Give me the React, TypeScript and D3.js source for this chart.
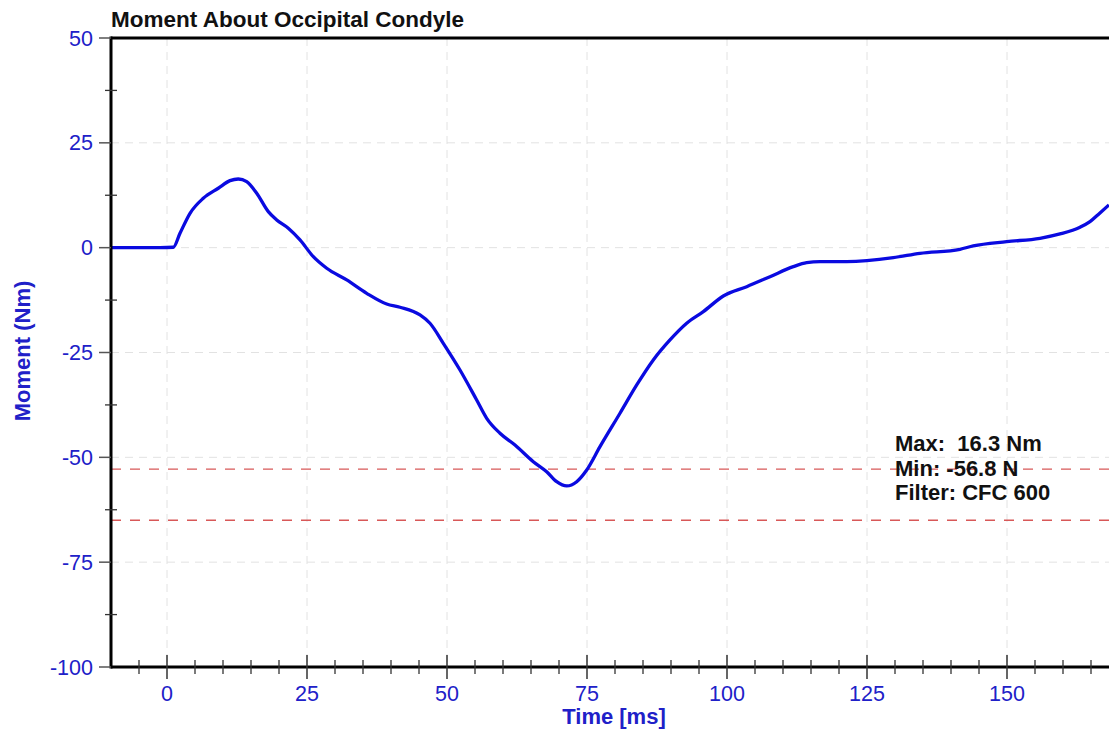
import React from "react";
import * as d3 from "d3";

const timeMs = [-10, -1.25, 1.13, 2.32, 4.11, 6.48, 9.16, 11.25, 12.73, 14.23, 16.02, 18.09, 19.59, 21.66, 23.75, 26.13, 28.52, 32.09, 35.66, 39.23, 41.61, 45.18, 46.96, 49.34, 52.32, 55.3, 57.09, 59.46, 62.14, 65.41, 67.8, 69.59, 71.38, 73.16, 74.95, 77.32, 80.89, 83.88, 86.84, 89.82, 92.8, 95.77, 99.34, 103.52, 107.68, 111.84, 114.23, 116.61, 121.38, 129.7, 134.46, 141.6, 143.98, 149.95, 155.89, 159.46, 163.04, 164.82, 166.6, 168.2];
const momentNm = [0, 0, 0.1, 3.43, 8.2, 11.78, 14.17, 15.98, 16.38, 15.74, 12.97, 8.59, 6.61, 4.63, 1.84, -2.15, -4.91, -7.7, -10.88, -13.43, -14.21, -16.05, -18.03, -22.8, -29.17, -36.32, -40.69, -44.26, -47.06, -51.04, -53.43, -55.81, -56.83, -55.81, -53.02, -47.46, -39.49, -32.74, -26.78, -22.01, -18.03, -15.26, -11.52, -9.3, -6.92, -4.53, -3.58, -3.34, -3.34, -2.38, -1.34, -0.38, 0.41, 1.43, 2.24, 3.27, 4.87, 6.2, 8.28, 10.18];

const xMajorTicks = [0, 25, 50, 75, 100, 125, 150];
const xMinorTicks = [-5, 5, 10, 15, 20, 30, 35, 40, 45, 55, 60, 65, 70, 80, 85, 90, 95, 105, 110, 115, 120, 130, 135, 140, 145, 155, 160, 165];
const yMajorTicks = [50, 25, 0, -25, -50, -75, -100];
const yMinorTicks = [37.5, 12.5, -12.5, -37.5, -62.5, -87.5];
const limitLines = [-52.8, -65];
const annotation = ["Max:  16.3 Nm", "Min: -56.8 N", "Filter: CFC 600"];

const W = 1109;
const H = 734;
const left = 111;
const top = 38;
const bottom = 667;
const FONT = "'Liberation Sans', Arial, Helvetica, sans-serif";
const BLUE = "#2020c8";

export default function App() {
  const x = d3.scaleLinear().domain([-10, 170]).range([left, left + 180 * 5.6]);
  const y = d3.scaleLinear().domain([-100, 50]).range([bottom, top]);
  const pts = timeMs.map((t, i) => [t, momentNm[i]] as [number, number]);
  const line = d3
    .line<[number, number]>()
    .x((d) => x(d[0]))
    .y((d) => y(d[1]))
    .curve(d3.curveMonotoneX);

  return (
    <div style={{ position: "absolute", left: 0, top: 0 }}>
      <svg width={W} height={H} style={{ display: "block", background: "#fff" }} fontFamily={FONT}>
        {/* grid */}
        {xMajorTicks.map((t) => (
          <line key={"gx" + t} x1={x(t)} x2={x(t)} y1={top} y2={bottom} stroke="#e2e2e2" strokeWidth={1} strokeDasharray="8,6" />
        ))}
        {yMajorTicks.filter((v) => v !== 50 && v !== -100).map((v) => (
          <line key={"gy" + v} x1={left} x2={W} y1={y(v)} y2={y(v)} stroke="#e2e2e2" strokeWidth={1} strokeDasharray="8,6" />
        ))}
        {/* limit lines */}
        {limitLines.map((v) => (
          <line key={"l" + v} x1={left} x2={W} y1={y(v)} y2={y(v)} stroke="#d85858" strokeWidth={1.3} strokeDasharray="10,9" />
        ))}
        {/* data */}
        <path d={line(pts) || ""} fill="none" stroke="#0a0ae0" strokeWidth={3.3} strokeLinejoin="round" />
        {/* frame */}
        <line x1={left} x2={W} y1={top} y2={top} stroke="#000" strokeWidth={3} />
        <line x1={left} x2={W} y1={bottom} y2={bottom} stroke="#000" strokeWidth={3} />
        <line x1={left} x2={left} y1={top - 1.5} y2={bottom + 1.5} stroke="#000" strokeWidth={3} />
        {/* y ticks */}
        {yMajorTicks.map((v) => (
          <g key={"yt" + v}>
            <line x1={left - 12} x2={left} y1={y(v)} y2={y(v)} stroke="#555" strokeWidth={1.5} />
            <text x={left - 18} y={y(v)} dy="0.35em" textAnchor="end" fontSize={21.5} fill={BLUE}>
              {v}
            </text>
          </g>
        ))}
        {yMinorTicks.map((v) => (
          <line key={"ym" + v} x1={left - 6} x2={left + 6} y1={y(v)} y2={y(v)} stroke="#333" strokeWidth={1.3} />
        ))}
        {/* x ticks */}
        {xMajorTicks.map((t) => (
          <g key={"xt" + t}>
            <line x1={x(t)} x2={x(t)} y1={bottom - 12} y2={bottom + 12} stroke="#333" strokeWidth={1.5} />
            <text x={x(t)} y={701} textAnchor="middle" fontSize={21.5} fill={BLUE}>
              {t}
            </text>
          </g>
        ))}
        {xMinorTicks.map((t) => (
          <line key={"xm" + t} x1={x(t)} x2={x(t)} y1={bottom - 7} y2={bottom + 7} stroke="#333" strokeWidth={1.3} />
        ))}
        {/* titles */}
        <text x={left} y={27} fontSize={22.5} fontWeight="bold" fill="#111">
          Moment About Occipital Condyle
        </text>
        <text x={614} y={724} textAnchor="middle" fontSize={22} fontWeight="bold" fill={BLUE}>
          Time [ms]
        </text>
        <text transform="translate(30,351) rotate(-90)" textAnchor="middle" fontSize={22} fontWeight="bold" fill={BLUE}>
          Moment (Nm)
        </text>
        {/* annotation */}
        {annotation.map((s, i) => (
          <text key={s} x={895} y={451 + i * 24.5} fontSize={22} fontWeight="bold" fill="#111" style={{ whiteSpace: "pre" }}>
            {s}
          </text>
        ))}
      </svg>
    </div>
  );
}
